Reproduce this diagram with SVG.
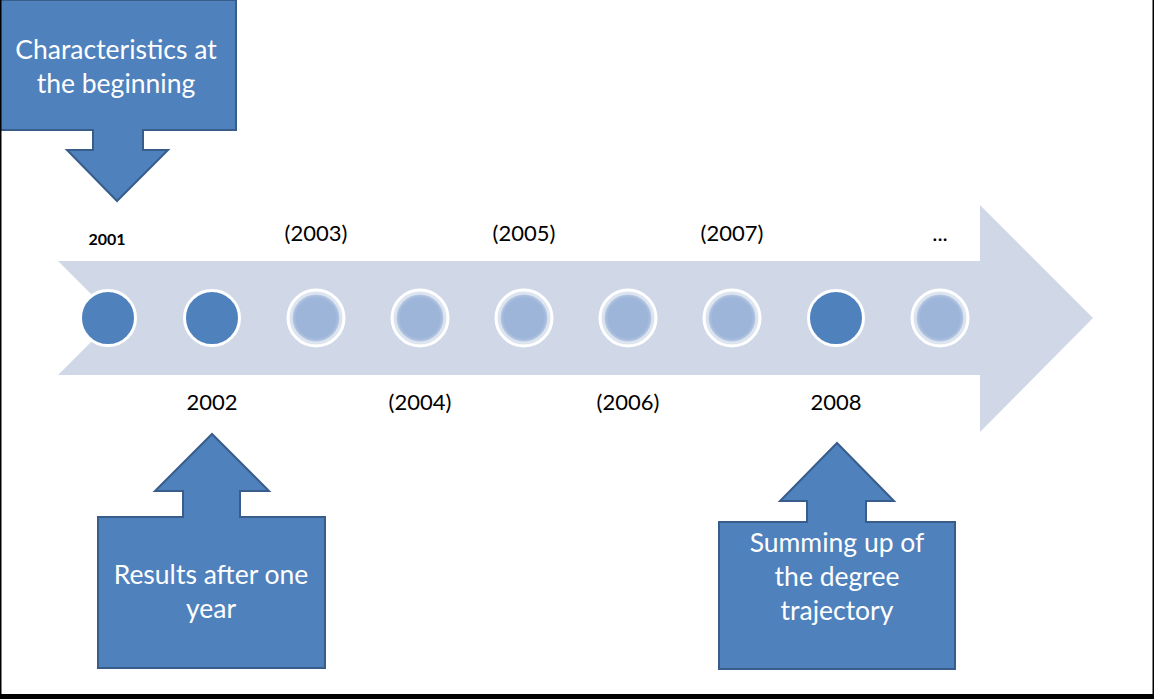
<svg xmlns="http://www.w3.org/2000/svg" width="1154" height="699" viewBox="0 0 1154 699">
<defs>
<style>
.callout{fill:#4F81BD;stroke:#385D8A;stroke-width:2;stroke-linejoin:miter}
.ctext{font-family:Lato,"Open Sans","Liberation Sans",sans-serif;font-size:26.5px;fill:#FFFFFF;text-anchor:middle}
.year{font-family:Lato,"Open Sans","Liberation Sans",sans-serif;font-size:22px;fill:#000000;text-anchor:middle}
.dark{fill:#4F81BD;stroke:#FFFFFF;stroke-width:3}
.lightOuter{fill:#DCE4F0;stroke:#FFFFFF;stroke-width:3}
</style>
<radialGradient id="lg" cx="50%" cy="50%" r="50%">
<stop offset="0.85" stop-color="#9DB5D8"/>
<stop offset="1" stop-color="#B5C7E2"/>
</radialGradient>
</defs>
<rect x="0" y="0" width="1154" height="699" fill="#FFFFFF"/>
<g id="timeline-arrow">
<polygon points="58,261 980,261 980,205 1093,318 980,432 980,375 58,375 115,318" fill="#D0D8E8"/>
</g>
<g id="circles">
<g id="c2001"><circle class="dark" cx="108" cy="318" r="27.5"/></g>
<g id="c2002"><circle class="dark" cx="212" cy="318" r="27.5"/></g>
<g id="c2003"><circle class="lightOuter" cx="316" cy="318" r="28"/><circle cx="316" cy="318" r="23.5" fill="url(#lg)"/></g>
<g id="c2004"><circle class="lightOuter" cx="420" cy="318" r="28"/><circle cx="420" cy="318" r="23.5" fill="url(#lg)"/></g>
<g id="c2005"><circle class="lightOuter" cx="524" cy="318" r="28"/><circle cx="524" cy="318" r="23.5" fill="url(#lg)"/></g>
<g id="c2006"><circle class="lightOuter" cx="628" cy="318" r="28"/><circle cx="628" cy="318" r="23.5" fill="url(#lg)"/></g>
<g id="c2007"><circle class="lightOuter" cx="732" cy="318" r="28"/><circle cx="732" cy="318" r="23.5" fill="url(#lg)"/></g>
<g id="c2008"><circle class="dark" cx="836" cy="318" r="27.5"/></g>
<g id="cmore"><circle class="lightOuter" cx="940" cy="318" r="28"/><circle cx="940" cy="318" r="23.5" fill="url(#lg)"/></g>
</g>
<g id="labels">
<text x="107" y="245" font-family="Lato,'Open Sans','Liberation Sans',sans-serif" font-size="16" font-weight="bold" text-anchor="middle" fill="#000">2001</text>
<text class="year" x="316" y="241">(2003)</text>
<text class="year" x="524" y="241">(2005)</text>
<text class="year" x="732" y="241">(2007)</text>
<text class="year" x="940" y="241">...</text>
<text class="year" x="212" y="410">2002</text>
<text class="year" x="420" y="410">(2004)</text>
<text class="year" x="628" y="410">(2006)</text>
<text class="year" x="836" y="410">2008</text>
</g>
<g id="callout-start">
<polygon class="callout" points="0,0 236,0 236,130 143,130 143,150 168,150 117,201 67,150 93,150 93,130 0,130"/>
<text class="ctext" x="116" y="59">Characteristics at</text>
<text class="ctext" x="116" y="93">the beginning</text>
</g>
<g id="callout-one-year">
<polygon class="callout" points="98,517 183,517 183,491 155,491 212,434 269,491 240,491 240,517 325,517 325,668 98,668"/>
<text class="ctext" x="211" y="584">Results after one</text>
<text class="ctext" x="211" y="618">year</text>
</g>
<g id="callout-summing">
<polygon class="callout" points="719,522 807,522 807,501 780,501 837,443 894,501 866,501 866,522 955,522 955,669 719,669"/>
<text class="ctext" x="837" y="552">Summing up of</text>
<text class="ctext" x="837" y="586">the degree</text>
<text class="ctext" x="837" y="620">trajectory</text>
</g>
<g id="frame">
<rect x="0" y="0" width="1.5" height="699" fill="#000"/>
<rect x="0" y="694" width="1154" height="5" fill="#000"/>
<rect x="1152.5" y="0" width="1.5" height="699" fill="#000"/>
</g>
</svg>
